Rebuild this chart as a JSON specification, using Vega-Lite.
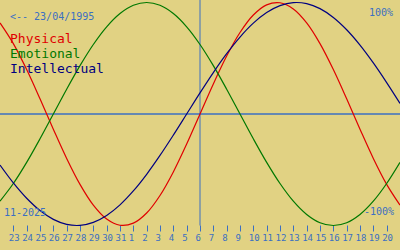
{
  "$schema": "https://vega.github.io/schema/vega-lite/v6.json",
  "width": 400,
  "height": 250,
  "autosize": {"type": "none"},
  "padding": 0,
  "background": "#e1d283",
  "config": {"view": {"stroke": null}},
  "datasets": {
    "bio": [
      {"date": "2025-10-22", "physical": 0.8170, "emotional": -0.7818, "intellectual": -0.4582},
      {"date": "2025-10-23", "physical": 0.6311, "emotional": -0.6235, "intellectual": -0.6182},
      {"date": "2025-10-24", "physical": 0.3984, "emotional": -0.4339, "intellectual": -0.7557},
      {"date": "2025-10-25", "physical": 0.1362, "emotional": -0.2225, "intellectual": -0.8660},
      {"date": "2025-10-26", "physical": -0.1362, "emotional": 0, "intellectual": -0.9450},
      {"date": "2025-10-27", "physical": -0.3984, "emotional": 0.2225, "intellectual": -0.9898},
      {"date": "2025-10-28", "physical": -0.6311, "emotional": 0.4339, "intellectual": -0.9989},
      {"date": "2025-10-29", "physical": -0.8170, "emotional": 0.6235, "intellectual": -0.9718},
      {"date": "2025-10-30", "physical": -0.9423, "emotional": 0.7818, "intellectual": -0.9096},
      {"date": "2025-10-31", "physical": -0.9977, "emotional": 0.9010, "intellectual": -0.8146},
      {"date": "2025-11-01", "physical": -0.9791, "emotional": 0.9749, "intellectual": -0.6901},
      {"date": "2025-11-02", "physical": -0.8879, "emotional": 1, "intellectual": -0.5406},
      {"date": "2025-11-03", "physical": -0.7308, "emotional": 0.9749, "intellectual": -0.3717},
      {"date": "2025-11-04", "physical": -0.5196, "emotional": 0.9010, "intellectual": -0.1893},
      {"date": "2025-11-05", "physical": -0.2698, "emotional": 0.7818, "intellectual": 0},
      {"date": "2025-11-06", "physical": 0, "emotional": 0.6235, "intellectual": 0.1893},
      {"date": "2025-11-07", "physical": 0.2698, "emotional": 0.4339, "intellectual": 0.3717},
      {"date": "2025-11-08", "physical": 0.5196, "emotional": 0.2225, "intellectual": 0.5406},
      {"date": "2025-11-09", "physical": 0.7308, "emotional": 0, "intellectual": 0.6901},
      {"date": "2025-11-10", "physical": 0.8879, "emotional": -0.2225, "intellectual": 0.8146},
      {"date": "2025-11-11", "physical": 0.9791, "emotional": -0.4339, "intellectual": 0.9096},
      {"date": "2025-11-12", "physical": 0.9977, "emotional": -0.6235, "intellectual": 0.9718},
      {"date": "2025-11-13", "physical": 0.9423, "emotional": -0.7818, "intellectual": 0.9989},
      {"date": "2025-11-14", "physical": 0.8170, "emotional": -0.9010, "intellectual": 0.9898},
      {"date": "2025-11-15", "physical": 0.6311, "emotional": -0.9749, "intellectual": 0.9450},
      {"date": "2025-11-16", "physical": 0.3984, "emotional": -1, "intellectual": 0.8660},
      {"date": "2025-11-17", "physical": 0.1362, "emotional": -0.9749, "intellectual": 0.7557},
      {"date": "2025-11-18", "physical": -0.1362, "emotional": -0.9010, "intellectual": 0.6182},
      {"date": "2025-11-19", "physical": -0.3984, "emotional": -0.7818, "intellectual": 0.4582},
      {"date": "2025-11-20", "physical": -0.6311, "emotional": -0.6235, "intellectual": 0.2817},
      {"date": "2025-11-21", "physical": -0.8170, "emotional": -0.4339, "intellectual": 0.0951}
    ]
  },
  "data": {"name": "bio"},
  "layer": [
    {
      "data": {"values": [{}]},
      "mark": {"type": "rule", "color": "#3b6fc2", "strokeWidth": 1.5},
      "encoding": {
        "y": {"datum": 0, "type": "quantitative", "axis": null}
      }
    },
    {
      "data": {"values": [{}]},
      "mark": {"type": "rule", "color": "#3b6fc2", "strokeWidth": 1},
      "encoding": {
        "x": {"datum": {"year": 2025, "month": 11, "date": 6, "utc": true}, "type": "temporal", "title": null},
        "y": {"datum": -1.0, "type": "quantitative", "axis": null},
        "y2": {"datum": 1.0224}
      }
    },
    {
      "transform": [{"fold": ["physical", "emotional", "intellectual"], "as": ["series", "value"]}],
      "mark": {"type": "line", "interpolate": "catmull-rom", "strokeWidth": 1.2},
      "encoding": {
        "x": {
          "field": "date",
          "type": "temporal",
          "title": null,
          "scale": {
            "type": "utc",
            "domain": [
              {"year": 2025, "month": 10, "date": 22, "utc": true},
              {"year": 2025, "month": 11, "date": 21, "utc": true}
            ],
            "nice": false
          },
          "axis": {
            "values": [
              {"year": 2025, "month": 10, "date": 23, "utc": true},
              {"year": 2025, "month": 10, "date": 24, "utc": true},
              {"year": 2025, "month": 10, "date": 25, "utc": true},
              {"year": 2025, "month": 10, "date": 26, "utc": true},
              {"year": 2025, "month": 10, "date": 27, "utc": true},
              {"year": 2025, "month": 10, "date": 28, "utc": true},
              {"year": 2025, "month": 10, "date": 29, "utc": true},
              {"year": 2025, "month": 10, "date": 30, "utc": true},
              {"year": 2025, "month": 10, "date": 31, "utc": true},
              {"year": 2025, "month": 11, "date": 1, "utc": true},
              {"year": 2025, "month": 11, "date": 2, "utc": true},
              {"year": 2025, "month": 11, "date": 3, "utc": true},
              {"year": 2025, "month": 11, "date": 4, "utc": true},
              {"year": 2025, "month": 11, "date": 5, "utc": true},
              {"year": 2025, "month": 11, "date": 6, "utc": true},
              {"year": 2025, "month": 11, "date": 7, "utc": true},
              {"year": 2025, "month": 11, "date": 8, "utc": true},
              {"year": 2025, "month": 11, "date": 9, "utc": true},
              {"year": 2025, "month": 11, "date": 10, "utc": true},
              {"year": 2025, "month": 11, "date": 11, "utc": true},
              {"year": 2025, "month": 11, "date": 12, "utc": true},
              {"year": 2025, "month": 11, "date": 13, "utc": true},
              {"year": 2025, "month": 11, "date": 14, "utc": true},
              {"year": 2025, "month": 11, "date": 15, "utc": true},
              {"year": 2025, "month": 11, "date": 16, "utc": true},
              {"year": 2025, "month": 11, "date": 17, "utc": true},
              {"year": 2025, "month": 11, "date": 18, "utc": true},
              {"year": 2025, "month": 11, "date": 19, "utc": true},
              {"year": 2025, "month": 11, "date": 20, "utc": true}
            ],
            "tickCount": 60,
            "format": "%-d",
            "domain": false,
            "grid": false,
            "offset": -25,
            "tickSize": 6,
            "tickWidth": 1,
            "tickColor": "#3b6fc2",
            "labelColor": "#3b6fc2",
            "labelFont": "DejaVu Sans Mono",
            "labelFontSize": 9,
            "labelPadding": 2,
            "labelAlign": "left",
            "labelOffset": -5,
            "labelOverlap": false,
            "labelFlush": false,
            "labelBound": false
          }
        },
        "y": {
          "field": "value",
          "type": "quantitative",
          "scale": {"domain": [-1.2197, 1.0224], "nice": false, "zero": false},
          "axis": null
        },
        "color": {
          "field": "series",
          "type": "nominal",
          "scale": {"domain": ["physical", "emotional", "intellectual"], "range": ["#e00000", "#007800", "#000080"]},
          "legend": null
        }
      }
    },
    {
      "data": {"values": [{}]},
      "mark": {"type": "text", "text": "<-- 23/04/1995", "font": "DejaVu Sans Mono", "fontSize": 10, "align": "left", "baseline": "alphabetic", "color": "#3b6fc2"},
      "encoding": {
        "x": {"datum": {"year": 2025, "month": 10, "date": 22, "hours": 18, "utc": true}, "type": "temporal", "title": null},
        "y": {"datum": 0.843, "type": "quantitative", "axis": null}
      }
    },
    {
      "data": {"values": [{}]},
      "mark": {"type": "text", "text": "Physical", "font": "DejaVu Sans Mono", "fontSize": 13, "align": "left", "baseline": "alphabetic", "color": "#e00000"},
      "encoding": {
        "x": {"datum": {"year": 2025, "month": 10, "date": 22, "hours": 18, "utc": true}, "type": "temporal", "title": null},
        "y": {"datum": 0.637, "type": "quantitative", "axis": null}
      }
    },
    {
      "data": {"values": [{}]},
      "mark": {"type": "text", "text": "Emotional", "font": "DejaVu Sans Mono", "fontSize": 13, "align": "left", "baseline": "alphabetic", "color": "#007800"},
      "encoding": {
        "x": {"datum": {"year": 2025, "month": 10, "date": 22, "hours": 18, "utc": true}, "type": "temporal", "title": null},
        "y": {"datum": 0.502, "type": "quantitative", "axis": null}
      }
    },
    {
      "data": {"values": [{}]},
      "mark": {"type": "text", "text": "Intellectual", "font": "DejaVu Sans Mono", "fontSize": 13, "align": "left", "baseline": "alphabetic", "color": "#000080"},
      "encoding": {
        "x": {"datum": {"year": 2025, "month": 10, "date": 22, "hours": 18, "utc": true}, "type": "temporal", "title": null},
        "y": {"datum": 0.368, "type": "quantitative", "axis": null}
      }
    },
    {
      "data": {"values": [{}]},
      "mark": {"type": "text", "text": "100%", "font": "DejaVu Sans Mono", "fontSize": 10, "align": "right", "baseline": "alphabetic", "color": "#3b6fc2"},
      "encoding": {
        "x": {"datum": {"year": 2025, "month": 11, "date": 20, "hours": 11, "minutes": 24, "utc": true}, "type": "temporal", "title": null},
        "y": {"datum": 0.879, "type": "quantitative", "axis": null}
      }
    },
    {
      "data": {"values": [{}]},
      "mark": {"type": "text", "text": "-100%", "font": "DejaVu Sans Mono", "fontSize": 10, "align": "right", "baseline": "alphabetic", "color": "#3b6fc2"},
      "encoding": {
        "x": {"datum": {"year": 2025, "month": 11, "date": 20, "hours": 13, "minutes": 12, "utc": true}, "type": "temporal", "title": null},
        "y": {"datum": -0.906, "type": "quantitative", "axis": null}
      }
    },
    {
      "data": {"values": [{}]},
      "mark": {"type": "text", "text": "11-2025", "font": "DejaVu Sans Mono", "fontSize": 10, "align": "left", "baseline": "alphabetic", "color": "#3b6fc2"},
      "encoding": {
        "x": {"datum": {"year": 2025, "month": 10, "date": 22, "hours": 7, "minutes": 12, "utc": true}, "type": "temporal", "title": null},
        "y": {"datum": -0.915, "type": "quantitative", "axis": null}
      }
    }
  ]
}
